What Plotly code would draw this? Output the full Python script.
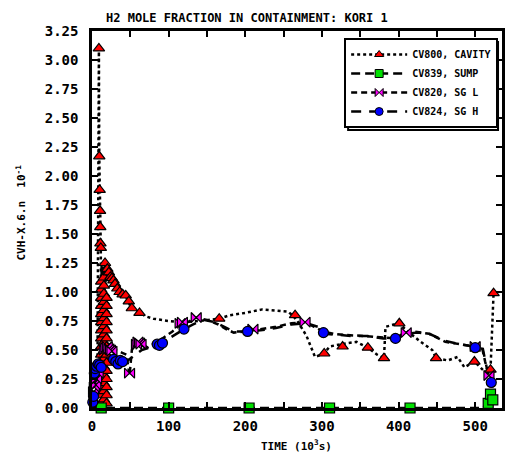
import plotly.graph_objects as go

# ---------------- data (time in 10^3 s, mole fraction in 10^-1) ----------------
series_names = ["CV800, CAVITY", "CV839, SUMP", "CV820, SG L", "CV824, SG H"]

cav_t = [0, 5, 7, 8, 9, 9.5, 10, 10.5, 11, 11.5, 12, 12.5, 13, 13.5, 14, 14.5, 15, 15.5,
         16, 16.5, 17, 17.5, 18, 19, 20, 22, 24, 27, 30, 33, 36, 40, 45, 50, 55, 62, 70,
         80, 100, 120, 140, 166, 180, 200, 222, 240, 256, 263, 270, 280, 291, 303, 310,
         325, 345, 360, 372, 381, 383, 400, 412, 429, 444, 449, 464, 477, 486, 499, 513,
         520, 524]
cav_v = [0, 0.02, 0.1, 1.4, 3.1, 2.17, 1.88, 1.65, 1.42, 1.38, 0.1, 1.25, 0.05, 1.2, 0.1,
         1.22, 0.05, 1.15, 0.1, 1.25, 0.05, 1.2, 1.25, 1.2, 1.18, 1.15, 1.12, 1.1, 1.05,
         1.02, 1.0, 0.98, 0.95, 0.88, 0.85, 0.82, 0.79, 0.77, 0.75, 0.74, 0.75, 0.77, 0.80,
         0.82, 0.85, 0.84, 0.83, 0.79, 0.73, 0.62, 0.44, 0.47, 0.53, 0.55, 0.57, 0.52, 0.46,
         0.43, 0.70, 0.73, 0.66, 0.57, 0.50, 0.43, 0.41, 0.44, 0.35, 0.40, 0.31, 0.33, 0.99]
cav_mark_t = [9, 9.5, 10, 10.5, 10.8, 11, 11.5,
              12, 12, 12, 12, 12, 12, 12, 12, 12, 12, 12, 12, 12, 12, 12, 12,
              15.5, 15.5, 15.5, 15.5, 15.5, 15.5, 15.5, 15.5, 15.5, 15.5, 15.5, 15.5, 15.5,
              15.5, 15.5, 15.5,
              19, 19, 19, 19, 19, 19, 19, 19, 19, 19, 19, 19, 19, 19,
              17, 20, 22, 24, 26, 28, 30, 33, 36, 40, 44, 48, 52, 62,
              166, 265, 303, 327, 360, 381, 401, 449, 499, 520, 524]
cav_mark_v = [3.1, 2.17, 1.88, 1.7, 1.56, 1.42, 1.38,
              0.04, 0.11, 0.18, 0.25, 0.32, 0.39, 0.46, 0.53, 0.6, 0.67, 0.74, 0.81, 0.88,
              0.95, 1.02, 1.09,
              0.075, 0.145, 0.215, 0.285, 0.355, 0.425, 0.495, 0.565, 0.635, 0.705, 0.775,
              0.845, 0.915, 0.985, 1.055, 1.125,
              0.04, 0.11, 0.18, 0.25, 0.32, 0.39, 0.46, 0.53, 0.6, 0.67, 0.74, 0.81, 0.88,
              0.95,
              1.25, 1.2, 1.17, 1.13, 1.12, 1.1, 1.07, 1.03, 1.0, 0.98, 0.97, 0.92, 0.86,
              0.82, 0.77, 0.80, 0.47, 0.53, 0.52, 0.43, 0.73, 0.43, 0.40, 0.33, 0.99]

sump_t = [0, 100, 200, 300, 400, 510, 514, 518, 522, 526]
sump_v = [0, 0, 0, 0, 0, 0, 0.03, 0.12, 0.08, 0.13]
sump_mark_t = [12, 100, 205, 310, 415, 517, 520, 523]
sump_mark_v = [0, 0, 0, 0, 0, 0.04, 0.12, 0.07]

sgl_t = [0, 2, 4, 6, 8, 10, 14, 18, 24, 30, 38, 45, 49, 52, 58, 64, 72, 80, 92, 105, 115,
         125, 136, 150, 165, 175, 185, 200, 220, 240, 260, 278, 290, 302, 315, 330, 357,
         374, 396, 408, 420, 440, 461, 480, 496, 509, 513, 516, 520, 524]
sgl_v = [0.1, 0.15, 0.25, 0.2, 0.35, 0.45, 0.5, 0.52, 0.53, 0.5, 0.48, 0.46, 0.28, 0.5,
         0.56, 0.57, 0.52, 0.55, 0.6, 0.66, 0.72, 0.74, 0.78, 0.76, 0.72, 0.68, 0.65, 0.66,
         0.68, 0.70, 0.73, 0.74, 0.70, 0.66, 0.64, 0.63, 0.62, 0.61, 0.60, 0.65, 0.66, 0.64,
         0.57, 0.55, 0.53, 0.52, 0.40, 0.32, 0.25, 0.20]
sgl_mark_t = [2, 3, 4, 5, 6, 8, 16, 18, 20, 22, 24, 26, 49, 58, 60, 62, 64, 115, 118, 136,
              210, 278, 410, 500, 518]
sgl_mark_v = [0.14, 0.18, 0.22, 0.2, 0.25, 0.3, 0.5, 0.52, 0.53, 0.51, 0.5, 0.49, 0.3,
              0.55, 0.57, 0.56, 0.55, 0.73, 0.74, 0.78, 0.68, 0.74, 0.65, 0.53, 0.28]

sgh_t = [0, 2, 4, 7, 10, 14, 20, 28, 36, 45, 55, 65, 75, 85, 95, 108, 120, 132, 145, 160,
         172, 185, 200, 220, 240, 260, 280, 295, 304, 320, 340, 360, 380, 397, 408, 425,
         440, 460, 480, 498, 510, 515, 519, 524]
sgh_v = [0.03, 0.10, 0.30, 0.36, 0.38, 0.35, 0.40, 0.42, 0.40, 0.40, 0.45, 0.50, 0.52,
         0.55, 0.58, 0.63, 0.68, 0.72, 0.76, 0.74, 0.70, 0.66, 0.66, 0.67, 0.69, 0.72, 0.73,
         0.70, 0.64, 0.63, 0.62, 0.62, 0.60, 0.60, 0.64, 0.65, 0.64, 0.58, 0.55, 0.53, 0.51,
         0.35, 0.25, 0.18]
sgh_mark_t = [1, 2, 3, 4, 6, 8, 10, 12, 28, 31, 34, 37, 40, 85, 88, 92, 120, 203, 302,
              396, 500, 521]
sgh_mark_v = [0.05, 0.1, 0.3, 0.34, 0.36, 0.38, 0.37, 0.35, 0.42, 0.40, 0.38, 0.41, 0.40,
              0.55, 0.54, 0.56, 0.68, 0.66, 0.65, 0.60, 0.52, 0.22]

y_tick_vals = [0, 0.25, 0.5, 0.75, 1.0, 1.25, 1.5, 1.75, 2.0, 2.25, 2.5, 2.75, 3.0, 3.25]

# ---------------- styles ----------------
MONO = "DejaVu Sans Mono"
styles = [
    dict(dash="3px,3px", symbol="triangle-up", color="#ff0000", size=10),
    dict(dash="9px,5px", symbol="square", color="#00e000", size=10),
    dict(dash="6px,4px", symbol="bowtie", color="#ff00ff", size=10),
    dict(dash="10px,8px", symbol="circle", color="#0000ff", size=10),
]
lines = [(cav_t, cav_v), (sump_t, sump_v), (sgl_t, sgl_v), (sgh_t, sgh_v)]
marks = [(cav_mark_t, cav_mark_v), (sump_mark_t, sump_mark_v),
         (sgl_mark_t, sgl_mark_v), (sgh_mark_t, sgh_mark_v)]

fig = go.Figure()
for (lt, lv), st in zip(lines, styles):
    fig.add_trace(go.Scatter(x=lt, y=lv, mode="lines", showlegend=False,
                             line=dict(color="black", width=2.5, dash=st["dash"])))
for (mt, mv), st in zip(marks, styles):
    fig.add_trace(go.Scatter(x=mt, y=mv, mode="markers", showlegend=False, cliponaxis=False,
                             marker=dict(symbol=st["symbol"], color=st["color"], size=st["size"],
                                         line=dict(color="black", width=1.2))))
for name, st in zip(series_names, styles):
    fig.add_trace(go.Scatter(x=[None], y=[None], mode="lines+markers", name=name,
                             line=dict(color="black", width=2.5, dash=st["dash"]),
                             marker=dict(symbol=st["symbol"], color=st["color"], size=8,
                                         line=dict(color="black", width=1))))

W, H = 508, 459
L, R, T, B = 92, 3, 31, 51
pw, ph = W - L - R, H - T - B


def px_x(px):
    return (px - L) / pw


def px_y(py):
    return (H - B - py) / ph


tick_font = dict(family=MONO, size=14, color="black", weight="bold")
fig.update_layout(
    width=W, height=H,
    margin=dict(l=L, r=R, t=T, b=B),
    paper_bgcolor="white", plot_bgcolor="white",
    font=dict(family=MONO, color="black"),
    legend=dict(x=px_x(346), y=px_y(38), xanchor="left", yanchor="top",
                bgcolor="white", bordercolor="black", borderwidth=2,
                font=dict(family=MONO, size=10, color="black", weight="bold"),
                itemwidth=56, tracegroupgap=0),
    xaxis=dict(range=[0, 535], dtick=100, tick0=0,
               ticks="inside", ticklen=6, tickwidth=2, tickcolor="black",
               minor=dict(dtick=50, ticks="inside", ticklen=6, tickwidth=2, tickcolor="black"),
               showline=True, linecolor="black", linewidth=2.5, mirror="ticks",
               showgrid=False, zeroline=False, ticklabelstandoff=3,
               tickfont=tick_font),
    yaxis=dict(range=[0, 3.25], tickvals=y_tick_vals, tickformat=".2f",
               ticks="inside", ticklen=6, tickwidth=2, tickcolor="black",
               showline=True, linecolor="black", linewidth=2.5, mirror="ticks",
               showgrid=False, zeroline=False, ticklabelstandoff=8,
               tickfont=tick_font),
    annotations=[
        dict(text="H2 MOLE FRACTION IN CONTAINMENT: KORI 1", xref="paper", yref="paper",
             x=px_x(248), y=px_y(18), xanchor="center", yanchor="middle", showarrow=False,
             font=dict(family=MONO, size=12, color="black", weight="bold")),
        dict(text="TIME (10<sup>3</sup>s)", xref="paper", yref="paper",
             x=px_x(298), y=px_y(445), xanchor="center", yanchor="middle", showarrow=False,
             font=dict(family=MONO, size=11, color="black", weight="bold")),
        dict(text="CVH-X.6.n  10<sup>-1</sup>", xref="paper", yref="paper", textangle=-90,
             x=px_x(20), y=px_y(213), xanchor="center", yanchor="middle", showarrow=False,
             font=dict(family=MONO, size=11, color="black", weight="bold")),
    ],
    shapes=[
        dict(type="rect", xref="paper", yref="paper", layer="above",
             x0=px_x(350), x1=px_x(501), y0=px_y(130), y1=px_y(42),
             line=dict(color="black", width=2), fillcolor="white"),
    ],
)

fig.write_html("out.html", config={"displayModeBar": False},
               post_script="document.body.style.margin='0';")
